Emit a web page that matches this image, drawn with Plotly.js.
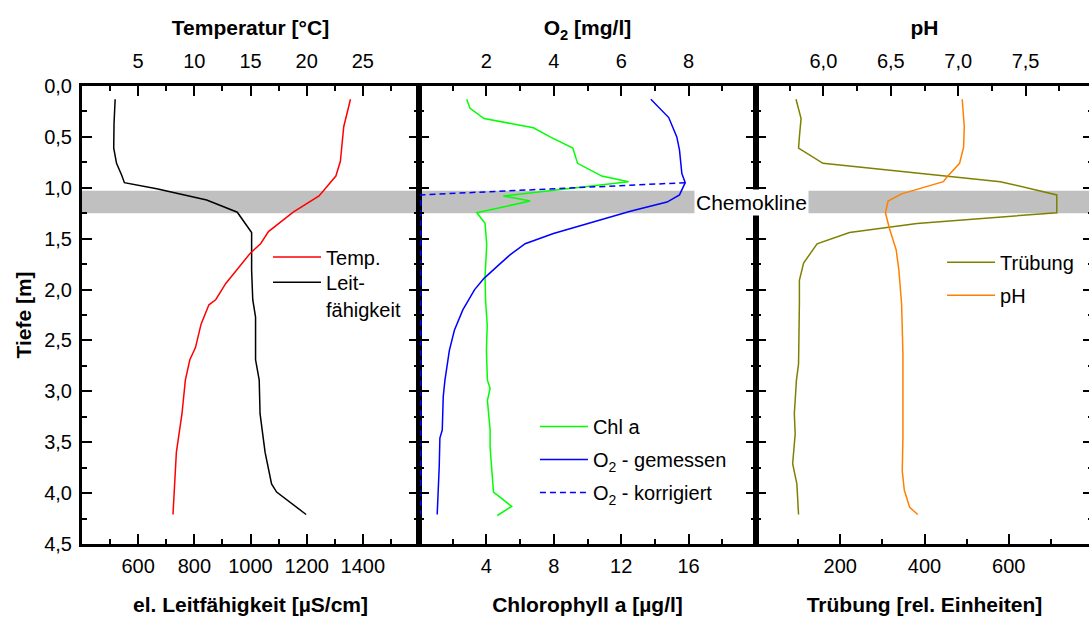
<!DOCTYPE html>
<html><head><meta charset="utf-8">
<script src="https://cdn.plot.ly/plotly-3.0.1.min.js"></script>
<style>html,body{margin:0;padding:0;overflow:hidden;background:#fff;width:1089px;height:619px}#chart{width:1096px;height:619px}</style>
</head><body><div id="chart"></div>
<script>
// ---- data (depth in m) ----
const tempDepth = [0.13,0.40,0.74,0.885,1.08,1.24,1.43,1.55,1.64,1.81,1.94,2.10,2.15,2.34,2.57,2.69,2.89,3.22,3.60,4.21];
const temp      = [23.9,23.3,23.0,22.6,21.1,18.8,16.6,15.9,15.0,13.8,12.8,11.9,11.3,10.6,10.1,9.6,9.2,8.9,8.4,8.1];
const condDepth = [0.13,0.37,0.61,0.76,0.875,0.95,1.01,1.12,1.24,1.44,1.81,2.10,2.27,2.69,2.89,3.22,3.60,3.91,3.99,4.21];
const cond      = [518,514,513,523,541,551,666,844,953,1004,1004,1008,1018,1018,1031,1034,1052,1075,1093,1198];
const chlDepth  = [0.13,0.22,0.32,0.41,0.50,0.61,0.76,0.885,0.94,1.08,1.13,1.245,1.35,1.56,1.875,2.1,2.35,2.6,2.89,2.97,3.09,3.22,3.38,3.55,3.74,3.99,4.13,4.22];
const chl       = [2.83,3.03,3.86,6.79,7.78,9.13,9.41,10.85,12.44,5.01,6.6,3.43,3.92,4.02,3.92,3.95,4.05,4.0,4.06,4.22,4.06,4.12,4.22,4.22,4.32,4.42,5.5,4.65];
const o2Depth   = [0.13,0.31,0.50,0.63,0.86,0.95,1.07,1.14,1.23,1.36,1.45,1.55,1.66,1.76,1.89,2.0,2.2,2.4,2.6,2.89,3.05,3.38,3.46,3.74,4.21];
const o2        = [6.88,7.41,7.65,7.73,7.80,7.90,7.73,7.36,6.27,4.88,3.99,3.15,2.70,2.36,1.93,1.65,1.30,1.05,0.90,0.77,0.72,0.69,0.62,0.60,0.54];
const o2kDepth  = [0.95,1.07,4.21];
const o2k       = [7.90,0.05,0.05];
const trDepth   = [0.13,0.32,0.50,0.61,0.76,0.94,1.07,1.245,1.35,1.44,1.55,1.74,1.91,2.14,2.73,2.89,3.22,3.42,3.71,3.91,4.21];
const tr        = [95,107,103,101,159,580,714,714,382,222,145,113,103,103,101,96,91,93,87,97,101];
const phDepth   = [0.13,0.40,0.60,0.76,0.89,0.94,1.06,1.13,1.245,1.40,1.61,1.81,2.14,2.63,3.45,3.78,3.97,4.14,4.21];
const ph        = [7.03,7.045,7.04,7.01,6.92,6.89,6.58,6.48,6.46,6.49,6.54,6.56,6.58,6.59,6.59,6.585,6.60,6.64,6.70];
const chemokline = [1.03,1.25];

// ---- tick labels ----
const depthTicks = [0,0.5,1,1.5,2,2.5,3,3.5,4,4.5];
const tempTicks  = [5,10,15,20,25];
const condTicks  = [600,800,1000,1200,1400];
const o2Ticks    = [2,4,6,8];
const chlTicks   = [4,8,12,16];
const phTicks    = [6.0,6.5,7.0,7.5];
const trTicks    = [200,400,600];

const FONT = 'Liberation Sans, Arial, Helvetica, sans-serif';
const tickFont = {size:20, family:FONT, color:'#000'};
const titleFont = {size:21, family:FONT, color:'#000', weight:'bold'};

function minor(d){ return {tickmode:'linear', tick0:0, dtick:d, ticks:'inside', ticklen:5, tickwidth:2, tickcolor:'#000', showgrid:false}; }
function ax(o){
  return Object.assign({showline:true, linewidth:3, linecolor:'#000', ticks:'inside', ticklen:10, tickwidth:2,
    tickcolor:'#000', showgrid:false, zeroline:false, tickfont:tickFont, tickmode:'array'}, o);
}
const bottomT = (t) => ({text:t, font:titleFont, standoff:22});
const topT = (t) => ({text:t, font:titleFont, standoff:9});

const data = [
  {x:temp, y:tempDepth, xaxis:'x2', yaxis:'y', type:'scatter', mode:'lines', name:'Temp.', line:{color:'#FF0000', width:1.5}, legend:'legend', legendgroup:'a'},
  {x:cond, y:condDepth, xaxis:'x', yaxis:'y', type:'scatter', mode:'lines', name:'Leit-', line:{color:'#000000', width:1.5}, legend:'legend2', legendgroup:'b'},
  {x:chl, y:chlDepth, xaxis:'x3', yaxis:'y2', type:'scatter', mode:'lines', name:'Chl a', line:{color:'#00FF00', width:1.5}, legend:'legend3', legendgroup:'c'},
  {x:o2, y:o2Depth, xaxis:'x4', yaxis:'y2', type:'scatter', mode:'lines', name:'O<sub>2</sub> - gemessen', line:{color:'#0000FF', width:1.5}, legend:'legend3', legendgroup:'d'},
  {x:o2k, y:o2kDepth, xaxis:'x4', yaxis:'y2', type:'scatter', mode:'lines', name:'O<sub>2</sub> - korrigiert', line:{color:'#0000FF', width:1.5, dash:'6px,4px'}, legend:'legend3', legendgroup:'e'},
  {x:tr, y:trDepth, xaxis:'x5', yaxis:'y3', type:'scatter', mode:'lines', name:'Trübung', line:{color:'#808000', width:1.5}, legend:'legend4', legendgroup:'f'},
  {x:ph, y:phDepth, xaxis:'x6', yaxis:'y3', type:'scatter', mode:'lines', name:'pH', line:{color:'#FF8000', width:1.5}, legend:'legend4', legendgroup:'g'}
];

const legBase = {xanchor:'left', yanchor:'top', bgcolor:'rgba(0,0,0,0)', borderwidth:0, font:{size:20, family:FONT, color:'#000'}, itemwidth:48, traceorder:'grouped', tracegroupgap:4};

const layout = {
  width:1096, height:619,
  margin:{l:82, r:3, t:86, b:75, pad:0},
  paper_bgcolor:'#fff', plot_bgcolor:'rgba(0,0,0,0)',
  separators:',.',
  font:{family:FONT, color:'#000'},
  showlegend:true,
  xaxis:  ax({domain:[0,1/3], anchor:'y', range:[400,1600], tickvals:condTicks, ticklabelstandoff:2, minor:minor(100), title:bottomT('el. Leitfähigkeit [µS/cm]')}),
  xaxis2: ax({overlaying:'x', side:'top', anchor:'y', range:[0,30], tickvals:tempTicks, ticklabelstandoff:7, minor:minor(2.5), title:topT('Temperatur [°C]')}),
  xaxis3: ax({domain:[1/3,2/3], anchor:'y2', range:[0,20], tickvals:chlTicks, ticklabelstandoff:2, minor:minor(2), title:bottomT('Chlorophyll a [µg/l]')}),
  xaxis4: ax({overlaying:'x3', side:'top', anchor:'y2', range:[0,10], tickvals:o2Ticks, ticklabelstandoff:7, minor:minor(1), title:topT('O<sub>2</sub> [mg/l]')}),
  xaxis5: ax({domain:[2/3,1], anchor:'y3', range:[0,800], tickvals:trTicks, ticklabelstandoff:2, minor:minor(100), title:bottomT('Trübung [rel. Einheiten]')}),
  xaxis6: ax({overlaying:'x5', side:'top', anchor:'y3', range:[5.5,8.0], tickvals:phTicks, tickformat:'.1f', ticklabelstandoff:7, minor:minor(0.25), title:topT('pH')}),
  yaxis:  ax({anchor:'x', range:[4.5,0], tickvals:depthTicks, tickformat:'.1f', ticklabelstandoff:3, mirror:'ticks', minor:minor(0.25), title:{text:'Tiefe [m]', font:titleFont, standoff:7}}),
  yaxis2: ax({anchor:'x3', matches:'y', range:[4.5,0], tickvals:depthTicks, showticklabels:false, mirror:'ticks', minor:minor(0.25)}),
  yaxis3: ax({anchor:'x5', matches:'y', range:[4.5,0], tickvals:depthTicks, showticklabels:false, mirror:'ticks', minor:minor(0.25)}),
  shapes:[{type:'rect', xref:'paper', yref:'y', x0:0, x1:1, y0:chemokline[0], y1:chemokline[1], fillcolor:'#C0C0C0', line:{width:0}, layer:'below'}],
  annotations:[
    {text:'Chemokline', xref:'paper', yref:'y', x:0.662, y:(chemokline[0]+chemokline[1])/2, showarrow:false, bgcolor:'#fff', borderpad:1, font:{size:21, family:FONT, color:'#000'}, xanchor:'center', yanchor:'middle'},
    {text:'fähigkeit', xref:'paper', yref:'paper', x:0.2393, y:0.510, showarrow:false, font:{size:20, family:FONT, color:'#000'}, xanchor:'left', yanchor:'middle'}
  ],
  legend:  Object.assign({}, legBase, {x:0.184, y:0.669}),
  legend2: Object.assign({}, legBase, {x:0.184, y:0.614}),
  legend3: Object.assign({}, legBase, {x:0.448, y:0.299}),
  legend4: Object.assign({}, legBase, {x:0.8507, y:0.658})
};

Plotly.newPlot('chart', data, layout, {displayModeBar:false, staticPlot:true});
</script></body></html>
